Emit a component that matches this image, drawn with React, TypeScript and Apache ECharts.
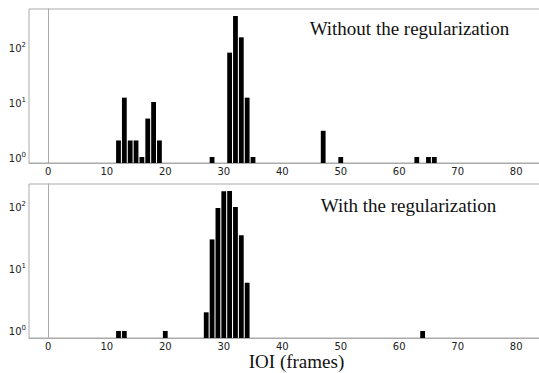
import React, { useEffect, useRef } from "react";
import * as echarts from "echarts";

const topIOI = [12, 13, 14, 15, 16, 17, 18, 19, 28, 31, 32, 33, 34, 35, 47, 50, 63, 65, 66];
const topCount = [2, 12, 2, 2, 1, 5, 10, 2, 1, 79, 366, 150, 12, 1, 3, 1, 1, 1, 1];
const bottomIOI = [12, 13, 20, 27, 28, 29, 30, 31, 32, 33, 34, 64];
const bottomCount = [1, 1, 1, 2, 30, 96, 180, 182, 100, 35, 6, 1];
const xTicks = [0, 10, 20, 30, 40, 50, 60, 70, 80];
const yTicks = [1, 10, 100];
const topTitle = "Without the regularization";
const bottomTitle = "With the regularization";
const xLabel = "IOI (frames)";

const topYMin = 0.778;
const topYMax = 491;
const botYMin = 0.77;
const botYMax = 235;

const FRAME = "#aaaaaa";

function makeRender(yMin: number) {
  return (params: any, api: any) => {
    const x = api.value(0);
    const y = api.value(1);
    const p0 = api.coord([x - 0.41, y]);
    const p1 = api.coord([x + 0.41, yMin]);
    return {
      type: "rect",
      shape: { x: p0[0], y: p0[1], width: p1[0] - p0[0], height: p1[1] - p0[1] },
      style: { fill: "#000" },
    };
  };
}

function xAxis(gridIndex: number) {
  return {
    type: "value",
    gridIndex,
    min: -3.3,
    max: 88,
    axisLine: { show: true, lineStyle: { color: FRAME, width: 1 } },
    axisTick: { show: false },
    splitLine: { show: false },
    axisLabel: {
      customValues: xTicks,
      color: "#222",
      fontFamily: "DejaVu Sans",
      fontSize: 10,
      margin: 3,
    },
  };
}

function yAxis(gridIndex: number, min: number, max: number) {
  return {
    type: "log",
    logBase: 10,
    gridIndex,
    min,
    max,
    axisLine: { show: true, lineStyle: { color: FRAME, width: 1 } },
    axisTick: { show: false },
    splitLine: { show: false },
    axisLabel: {
      customValues: yTicks,
      margin: 3,
      formatter: (v: number) => {
        const e = Math.round(Math.log10(v));
        if (Math.abs(Math.log10(v) - e) > 1e-6) return "";
        return "{b|10}{s|" + e + "}";
      },
      rich: {
        b: { fontFamily: "DejaVu Sans", fontSize: 10, color: "#222", lineHeight: 12, verticalAlign: "bottom" },
        s: { fontFamily: "DejaVu Sans", fontSize: 7, color: "#222", lineHeight: 12, verticalAlign: "top" },
      },
    },
  };
}

export default function App() {
  const ref = useRef<HTMLDivElement>(null);
  useEffect(() => {
    if (!ref.current) return;
    const chart = echarts.init(ref.current, undefined, { renderer: "svg" });
    chart.setOption({
      animation: false,
      backgroundColor: "#fff",
      grid: [
        { left: 29, top: 9, width: 534, height: 154, show: true, borderColor: FRAME, borderWidth: 1, outerBoundsMode: "none", containLabel: false },
        { left: 29, top: 184, width: 534, height: 154, show: true, borderColor: FRAME, borderWidth: 1, outerBoundsMode: "none", containLabel: false },
      ],
      xAxis: [xAxis(0), xAxis(1)],
      yAxis: [yAxis(0, topYMin, topYMax), yAxis(1, botYMin, botYMax)],
      series: [
        {
          type: "custom",
          xAxisIndex: 0,
          yAxisIndex: 0,
          renderItem: makeRender(topYMin),
          data: topIOI.map((x, i) => [x, topCount[i]]),
          clip: true,
        },
        {
          type: "custom",
          xAxisIndex: 1,
          yAxisIndex: 1,
          renderItem: makeRender(botYMin),
          data: bottomIOI.map((x, i) => [x, bottomCount[i]]),
          clip: true,
        },
      ],
      graphic: [
        {
          type: "text",
          x: 409.5,
          y: 28.5,
          style: {
            text: topTitle,
            font: "19px 'Liberation Serif'",
            fill: "#111",
            textAlign: "center",
            textVerticalAlign: "middle",
          },
        },
        {
          type: "text",
          x: 408.5,
          y: 205.5,
          style: {
            text: bottomTitle,
            font: "19px 'Liberation Serif'",
            fill: "#111",
            textAlign: "center",
            textVerticalAlign: "middle",
          },
        },
        {
          type: "text",
          x: 296.5,
          y: 361.5,
          style: {
            text: xLabel,
            font: "19px 'Liberation Serif'",
            fill: "#111",
            textAlign: "center",
            textVerticalAlign: "middle",
          },
        },
      ],
    });
    return () => chart.dispose();
  }, []);
  return (
    <div
      ref={ref}
      style={{ position: "absolute", left: 0, top: 0, width: 539, height: 373, background: "#fff" }}
    />
  );
}
